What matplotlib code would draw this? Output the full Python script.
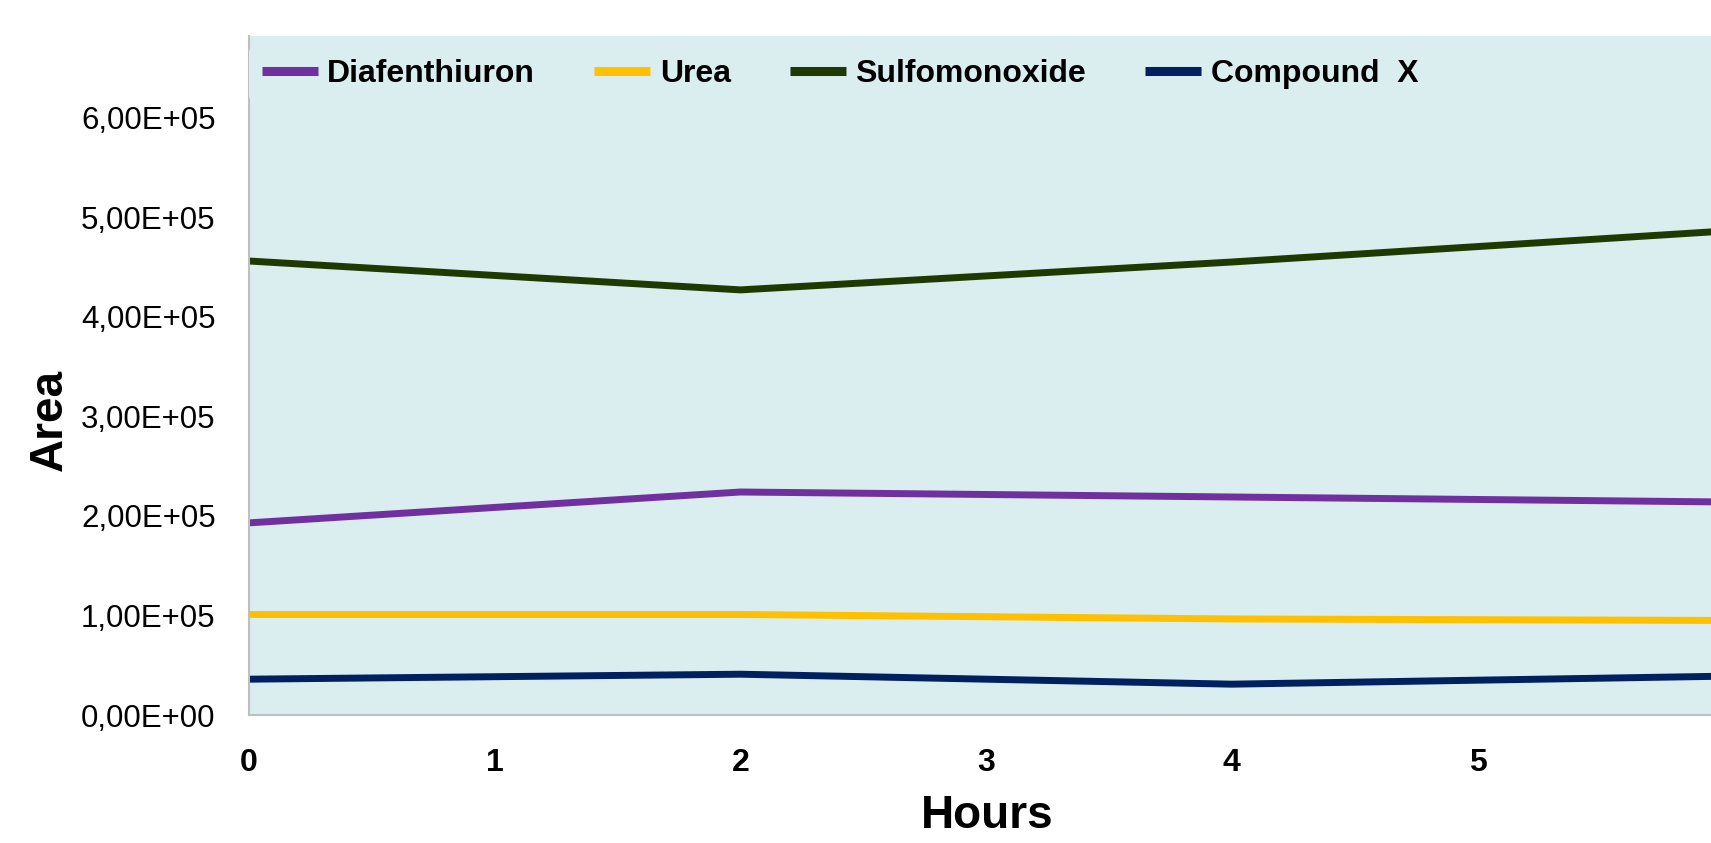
import matplotlib
matplotlib.use('Agg')
import matplotlib.pyplot as plt
from matplotlib.ticker import FuncFormatter

plt.rcParams['font.family'] = ['Liberation Sans', 'DejaVu Sans']

# peak areas over time
hours = [0, 2, 4, 6]
diafenthiuron = [1.93e5, 2.24e5, 2.19e5, 2.14e5]
urea = [1.01e5, 1.01e5, 0.965e5, 0.95e5]
sulfomonoxide = [4.56e5, 4.27e5, 4.55e5, 4.86e5]
compound_x = [0.36e5, 0.41e5, 0.31e5, 0.39e5]

names = ['Diafenthiuron', 'Urea', 'Sulfomonoxide', 'Compound  X']
colors = ['#7030A0', '#FFC000', '#1E3A00', '#002060']
series = [diafenthiuron, urea, sulfomonoxide, compound_x]

bg = '#DAEDEF'

fig = plt.figure(figsize=(17.11, 8.43), dpi=100)
ax = fig.add_axes([0.1455, 0.1518, 0.8545, 0.8055])
ax.set_facecolor(bg)

for vals, name, c in zip(series, names, colors):
    ax.plot(hours, vals, color=c, lw=5, label=name, solid_capstyle='butt')

ax.set_xlim(0, 5.95)
ax.set_ylim(0, 6.82e5)
ax.set_xticks(range(0, 6))
ax.set_yticks([i * 1e5 for i in range(7)])

def sci_comma(v, pos):
    s = '%.2E' % v
    return s.replace('.', ',')

ax.yaxis.set_major_formatter(FuncFormatter(sci_comma))
ax.tick_params(axis='y', length=0, pad=24, labelsize=22.5)
ax.tick_params(axis='x', length=0, pad=24, labelsize=23)
for t in ax.get_xticklabels():
    t.set_fontweight('bold')

for s in ['top', 'right']:
    ax.spines[s].set_visible(False)
for s in ['left', 'bottom']:
    ax.spines[s].set_color('#BFBFBF')
    ax.spines[s].set_linewidth(1.5)

ax.set_xlabel('Hours', fontsize=33, fontweight='bold')
ax.set_ylabel('Area', fontsize=33, fontweight='bold')
ax.xaxis.set_label_coords(0.505, -0.117)
ax.yaxis.set_label_coords(-0.121, 0.434)

leg = ax.legend(loc='upper left', ncol=4, frameon=True,
                prop={'weight': 'bold', 'size': 23},
                handlelength=1.75, handletextpad=0.3, columnspacing=1.85,
                bbox_to_anchor=(0.0, 0.985), borderaxespad=0.0, borderpad=0.4)
leg.get_frame().set_facecolor(bg)
leg.get_frame().set_edgecolor('none')
leg.get_frame().set_alpha(1)
for h in leg.get_lines():
    h.set_linewidth(6.5)

fig.savefig('out.png', dpi=100)
